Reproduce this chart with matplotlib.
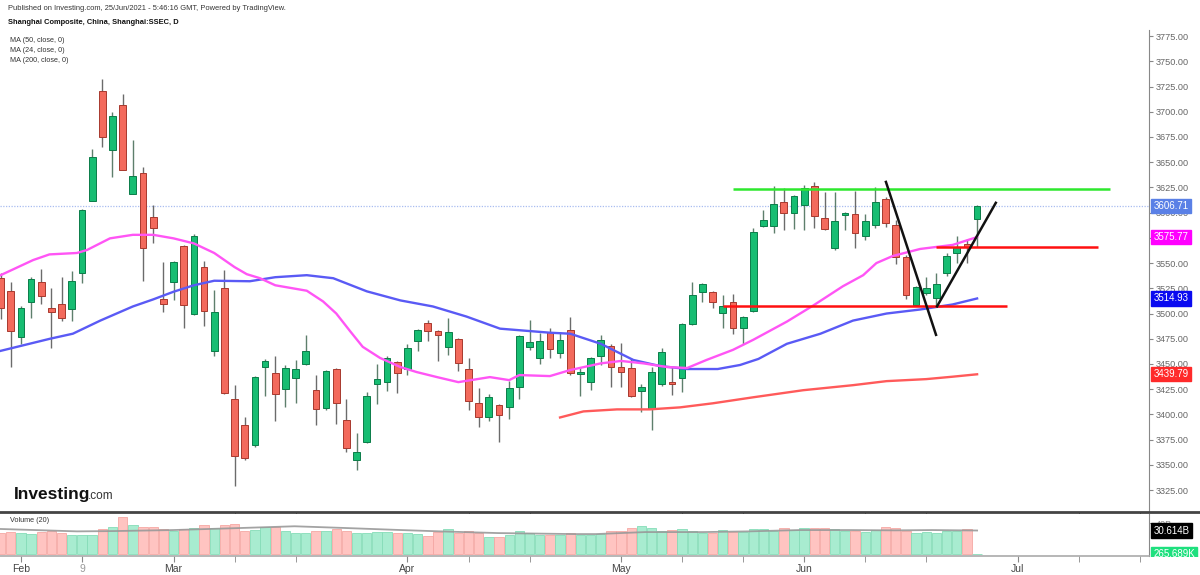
import matplotlib
matplotlib.use('Agg')
import numpy as np
from matplotlib import pyplot as plt
from matplotlib.lines import Line2D
from matplotlib.transforms import blended_transform_factory, Bbox

plt.rcParams['font.family'] = ['Liberation Sans', 'DejaVu Sans']

# daily bars, Jan 28 .. Jun 25 2021 (bar index -2 .. 94)
dates = ['Jan 28', 'Jan 29',
         'Feb 1', 'Feb 2', 'Feb 3', 'Feb 4', 'Feb 5', 'Feb 8', 'Feb 9', 'Feb 10',
         'Feb 18', 'Feb 19', 'Feb 22', 'Feb 23', 'Feb 24', 'Feb 25', 'Feb 26',
         'Mar 1', 'Mar 2', 'Mar 3', 'Mar 4', 'Mar 5', 'Mar 8', 'Mar 9', 'Mar 10',
         'Mar 11', 'Mar 12', 'Mar 15', 'Mar 16', 'Mar 17', 'Mar 18', 'Mar 19',
         'Mar 22', 'Mar 23', 'Mar 24', 'Mar 25', 'Mar 26', 'Mar 29', 'Mar 30', 'Mar 31',
         'Apr 1', 'Apr 2', 'Apr 6', 'Apr 7', 'Apr 8', 'Apr 9', 'Apr 12', 'Apr 13',
         'Apr 14', 'Apr 15', 'Apr 16', 'Apr 19', 'Apr 20', 'Apr 21', 'Apr 22', 'Apr 23',
         'Apr 26', 'Apr 27', 'Apr 28', 'Apr 29', 'Apr 30',
         'May 6', 'May 7', 'May 10', 'May 11', 'May 12', 'May 13', 'May 14', 'May 17',
         'May 18', 'May 19', 'May 20', 'May 21', 'May 24', 'May 25', 'May 26', 'May 27',
         'May 28', 'May 31',
         'Jun 1', 'Jun 2', 'Jun 3', 'Jun 4', 'Jun 7', 'Jun 8', 'Jun 9', 'Jun 10',
         'Jun 11', 'Jun 15', 'Jun 16', 'Jun 17', 'Jun 18', 'Jun 21', 'Jun 22', 'Jun 23',
         'Jun 24', 'Jun 25']
bar_index = list(range(-2, 95))

opens = [3535, 3522,
         3477, 3511, 3531, 3505, 3509, 3504, 3540, 3612,
         3721, 3662, 3707, 3618, 3639, 3596, 3514,
         3531, 3567, 3500, 3546, 3463, 3525, 3415, 3390,
         3370, 3447, 3441, 3425, 3436, 3450, 3424,
         3406, 3445, 3394, 3355, 3373, 3430, 3432, 3452,
         3445, 3473, 3491, 3483, 3467, 3475, 3445, 3411,
         3397, 3409, 3407, 3427, 3467, 3456, 3482, 3461,
         3484, 3440, 3432, 3458, 3468,
         3447, 3446, 3423, 3405, 3430, 3432, 3436, 3490,
         3521, 3521, 3501, 3511, 3486, 3503, 3587, 3587,
         3611, 3600,
         3608, 3626, 3595, 3565, 3598, 3599, 3577, 3588,
         3614, 3588, 3556, 3508, 3520, 3515, 3540, 3560,
         3569, 3594]
highs = [3540, 3531,
         3507, 3536, 3544, 3525, 3536, 3542, 3604, 3663,
         3732, 3700, 3718, 3672, 3645, 3608, 3551,
         3552, 3568, 3579, 3552, 3523, 3543, 3429, 3397,
         3438, 3455, 3458, 3449, 3454, 3479, 3439,
         3444, 3446, 3415, 3382, 3422, 3450, 3458, 3453,
         3470, 3485, 3494, 3484, 3496, 3476, 3456, 3426,
         3420, 3410, 3433, 3479, 3494, 3481, 3486, 3482,
         3497, 3447, 3457, 3479, 3470,
         3471, 3456, 3430, 3447, 3466, 3447, 3491, 3531,
         3530, 3522, 3518, 3519, 3498, 3585, 3603, 3626,
         3624, 3617,
         3627, 3630, 3620, 3620, 3601, 3621, 3599, 3625,
         3615, 3593, 3558, 3527, 3536, 3540, 3560, 3577,
         3574, 3608]
lows = [3495, 3447,
        3470, 3496, 3509, 3466, 3493, 3493, 3530, 3612,
        3665, 3635, 3642, 3618, 3532, 3570, 3502,
        3513, 3486, 3499, 3488, 3458, 3420, 3329, 3355,
        3368, 3418, 3393, 3407, 3411, 3449, 3390,
        3404, 3391, 3363, 3345, 3372, 3410, 3423, 3421,
        3439, 3463, 3473, 3453, 3459, 3443, 3404, 3388,
        3393, 3373, 3395, 3415, 3464, 3450, 3456, 3456,
        3439, 3418, 3424, 3449, 3427,
        3427, 3417, 3402, 3385, 3428, 3419, 3422, 3489,
        3511, 3505, 3486, 3480, 3470, 3502, 3586, 3580,
        3583, 3584,
        3583, 3585, 3583, 3563, 3583, 3565, 3573, 3585,
        3586, 3549, 3514, 3507, 3518, 3506, 3537, 3550,
        3550, 3566]
closes = [3505, 3483,
          3505, 3534, 3517, 3502, 3496, 3532, 3603, 3655,
          3675, 3696, 3642, 3636, 3565, 3585, 3509,
          3551, 3508, 3577, 3503, 3502, 3421, 3359, 3357,
          3437, 3453, 3420, 3446, 3445, 3463, 3405,
          3443, 3411, 3367, 3363, 3418, 3435, 3456, 3441,
          3466, 3484, 3483, 3479, 3482, 3451, 3413, 3397,
          3417, 3399, 3426, 3478, 3472, 3473, 3465, 3474,
          3441, 3442, 3456, 3474, 3447,
          3442, 3418, 3427, 3442, 3462, 3430, 3490, 3518,
          3529, 3511, 3507, 3486, 3497, 3581, 3593, 3609,
          3600, 3616,
          3624, 3597, 3584, 3592, 3600, 3580, 3592, 3611,
          3590, 3556, 3518, 3526, 3525, 3529, 3557, 3566,
          3566, 3606.71]
volumes_b = [28.0, 28.6,
             26.8, 25.5, 29.0, 29.5, 27.7, 24.2, 24.2, 24.2,
             33.0, 35.2, 48.0, 38.3, 35.6, 35.6, 32.1,
             30.4, 32.6, 34.3, 38.3, 34.3, 37.4, 39.6, 29.5,
             30.8, 35.2, 35.6, 30.4, 26.8, 27.7, 29.9,
             29.9, 32.1, 30.4, 26.8, 26.8, 28.2, 28.2, 27.7,
             26.8, 25.5, 22.9, 29.0, 32.1, 26.8, 29.5, 26.8,
             22.4, 22.4, 24.6, 29.5, 27.7, 24.2, 24.2, 24.2,
             26.8, 24.2, 24.6, 26.0, 29.9,
             29.9, 34.3, 36.5, 34.3, 29.5, 31.2, 33.0, 30.4,
             26.8, 26.8, 31.7, 28.6, 28.6, 32.6, 32.6, 30.4,
             34.3, 31.7,
             34.3, 34.3, 34.3, 32.6, 29.9, 30.4, 29.0, 31.2,
             35.6, 34.3, 29.9, 26.8, 29.0, 27.7, 29.9, 29.9,
             33.0, 0.000265689]

# moving averages (bar position, value)
ma50_x = [-2, 2.85, 5.1, 7.8, 11, 13, 15, 17, 19, 22.5, 25, 28.1, 30.7, 34, 37.3,
          40.5, 43.8, 47.1, 52, 54, 57, 60.2, 62.8, 65.5, 68.5, 70.7, 72.5, 75.3,
          78.6, 81.8, 85.1, 88.4, 91.6, 94]
ma50_y = [3463, 3475, 3480, 3493, 3507, 3514, 3521.6, 3528, 3532.5, 3532, 3536, 3538,
          3535, 3522, 3513, 3507, 3497, 3485, 3481, 3480, 3470, 3454, 3448, 3445,
          3445, 3449, 3455, 3470, 3480, 3493, 3500, 3504, 3509, 3514.93]
ma24_x = [-2, 1.2, 2.8, 5.5, 6.5, 8.75, 11, 13, 15, 17, 19, 21, 22.2, 23.5, 25, 28.1,
          29.7, 31, 32.4, 33.6, 35.3, 37.3, 38.9, 40.9, 43, 46.1, 48, 49, 52, 54, 57,
          59, 61.2, 63.5, 65.5, 67.4, 70, 72, 75.3, 77.9, 80.8, 82.8, 84.1, 85.7,
          88.4, 91.6, 94]
ma24_y = [3538, 3553, 3558.6, 3560, 3563, 3574.5, 3578, 3578, 3574.5, 3569.5, 3560,
          3546, 3539, 3535, 3528, 3522.6, 3512, 3500, 3482, 3467, 3456, 3447, 3442,
          3437, 3432, 3437, 3434, 3439, 3438, 3444, 3450.6, 3453, 3450.6, 3447, 3446,
          3454, 3464, 3474, 3492, 3508, 3527, 3538, 3550, 3557, 3564, 3568, 3575.77]
ma200_x = [53, 55.3, 58.6, 61.8, 64.8, 68, 72, 76.9, 81.8, 85.1, 89, 91.6, 94]
ma200_y = [3397, 3403, 3405, 3405, 3407, 3411, 3417, 3424, 3429, 3433, 3435, 3437.4,
           3439.79]
volma_x = [-2, 5.5, 9.2, 14.9, 20.5, 26.9, 31.8, 37.4, 41.2, 46.9, 54.4, 56.5, 61.4,
           67.1, 71.6, 76.5, 81.4, 85.9, 89.6, 94]
volma_y = [32.6, 29.5, 29.9, 31.2, 33.4, 36.1, 33.9, 31.2, 29.5, 27.3, 26.0, 26.0,
           28.6, 28.6, 29.5, 31.2, 31.2, 30.8, 31.2, 30.614]

# drawn lines: ((x0, y0), (x1, y1))
resistance = ((70, 3623.5), (107.1, 3623.5))
pivot_upper = ((90, 3565.5), (105.9, 3565.5))
pivot_lower = ((69, 3507), (96.9, 3507))
v_down = ((85, 3631.6), (90, 3477.7))
v_up = ((90, 3506), (95.9, 3610.8))

price_ticks = list(range(3325, 3776, 25))
month_ticks = [0, 6, 15, 38, 59, 77, 98]
month_labels = ['Feb', '9', 'Mar', 'Apr', 'May', 'Jun', 'Jul']
minor_ticks = [21, 27, 44, 50, 65, 71, 83, 89, 104, 110]

UP = '#17bd72'
UP_EDGE = '#0b7d49'
DOWN = '#f36a5c'
DOWN_EDGE = '#a8392e'


def tag(ax, y, text, bg, size=7):
    tr = blended_transform_factory(ax.transAxes, ax.transData)
    return ax.text(1.004, y, text, transform=tr, ha='left', va='center', fontsize=size,
                   color='white', clip_on=False, zorder=10,
                   bbox=dict(boxstyle='square,pad=0.22', fc=bg, ec=bg))


def main():
    W, H = 1200, 575
    fig = plt.figure(figsize=(W / 100, H / 100), dpi=100)
    ax = fig.add_axes([0, 1 - 512 / H, 1149 / W, (512 - 30) / H])
    vax = fig.add_axes([0, 1 - 556 / H, 1149 / W, (556 - 514) / H], sharex=ax)

    x = np.array(bar_index)
    o = np.array(opens)
    c = np.array(closes)
    up = c >= o
    wick_col = ['#5e7f6c' if u else '#6b6b6b' for u in up]
    ax.vlines(x, lows, highs, colors=wick_col, lw=1, zorder=2)
    body_lo = np.minimum(o, c)
    body_h = np.maximum(np.abs(c - o), 1.2)
    ax.bar(x, body_h, bottom=body_lo, width=0.66,
           color=[UP if u else DOWN for u in up],
           edgecolor=[UP_EDGE if u else DOWN_EDGE for u in up], lw=0.7, zorder=3)

    ax.plot(ma50_x, ma50_y, color='#5a5af5', lw=1.7, zorder=4)
    ax.plot(ma24_x, ma24_y, color='#ff55f5', lw=1.7, zorder=4)
    ax.plot(ma200_x, ma200_y, color='#ff5a5a', lw=1.7, zorder=4)

    ax.axhline(closes[-1], color='#a9bdf0', lw=0.9, ls=(0, (1, 1.2)), zorder=1)

    for (x0, y0), (x1, y1), col in [(resistance[0], resistance[1], '#2ee82e'),
                                    (pivot_upper[0], pivot_upper[1], '#ff1010'),
                                    (pivot_lower[0], pivot_lower[1], '#ff1010'),
                                    (v_down[0], v_down[1], '#111111'),
                                    (v_up[0], v_up[1], '#111111')]:
        ax.plot([x0, x1], [y0, y1], color=col, lw=1.8, zorder=5, solid_capstyle='butt')

    ax.set_xlim(-2.06, 110.9)
    ax.set_ylim(3303.3, 3781)
    ax.yaxis.tick_right()
    ax.set_yticks(price_ticks)
    ax.set_yticklabels(['%.2f' % p for p in price_ticks])
    ax.tick_params(axis='y', length=3, color='#888888', labelsize=6.6,
                   labelcolor='#666666', pad=2)
    ax.tick_params(axis='x', bottom=False, labelbottom=False)
    for s in ['top', 'left', 'bottom']:
        ax.spines[s].set_visible(False)
    ax.spines['right'].set_color('#888888')

    tag(ax, closes[-1], '%.2f' % closes[-1], '#5a80e6')
    tag(ax, ma24_y[-1], '%.2f' % ma24_y[-1], '#ff00ff')
    tag(ax, ma50_y[-1], '%.2f' % ma50_y[-1], '#0a0af0')
    tag(ax, ma200_y[-1], '%.2f' % ma200_y[-1], '#ff2a2a')

    # volume panel
    vcol = ['#a8ecd0' if u else '#ffc4c1' for u in up]
    vedge = ['#86dcb8' if u else '#f5a8a4' for u in up]
    vax.bar(x, volumes_b, width=0.92, color=vcol, edgecolor=vedge, lw=0.6, zorder=2)
    vax.plot(volma_x, volma_y, color='#999999', lw=1.3, alpha=0.9, zorder=3)
    vax.set_ylim(-2.4, 52)
    vax.yaxis.tick_right()
    vax.set_yticks([40])
    vax.set_yticklabels(['40B'])
    vax.tick_params(axis='y', length=3, color='#888888', labelsize=6.6,
                    labelcolor='#888888', pad=2)
    vax.set_xticks(month_ticks)
    vax.set_xticklabels(month_labels)
    vax.set_xticks(minor_ticks, minor=True)
    vax.tick_params(axis='x', which='both', length=4, color='#888888', direction='out',
                    labelsize=7.5, labelcolor='#444444', pad=2)
    vax.get_xticklabels()[1].set_color('#999999')
    for s in ['top', 'left']:
        vax.spines[s].set_visible(False)
    vax.spines['right'].set_color('#888888')
    vax.spines['bottom'].set_color('#aaaaaa')
    vax.spines['bottom'].set_linewidth(1.2)

    tag(vax, volma_y[-1], '30.614B', '#000000')
    # current volume tag, cut off at the bottom of the pane like the original
    cur = tag(vax, 0.3, '265.689K', '#1ee07e')
    cur.set_clip_on(True)
    cur.set_clip_box(Bbox([[1140, H - 557], [W, H]]))

    # separator between panes
    fig.add_artist(Line2D([0, 1], [1 - 512 / H] * 2, color='#444444', lw=2))

    # header and legend texts
    fig.text(8 / W, 1 - 9 / H, 'Published on Investing.com, 25/Jun/2021 - 5:46:16 GMT, '
             'Powered by TradingView.', fontsize=5.4, color='#333333', va='center')
    fig.text(8 / W, 1 - 22 / H, 'Shanghai Composite, China, Shanghai:SSEC, D',
             fontsize=5.4, weight='bold', color='#111111', va='center')
    for i, t in enumerate(['MA (50, close, 0)', 'MA (24, close, 0)', 'MA (200, close, 0)']):
        fig.text(10 / W, 1 - (40 + 10 * i) / H, t, fontsize=5.2, color='#333333',
                 va='center')
    fig.text(10 / W, 1 - 521 / H, 'Volume (20)', fontsize=5.2, color='#333333',
             va='center')
    fig.text(14 / W, 1 - 499 / H, 'Investing', fontsize=12.5, weight='bold',
             color='#111111', va='baseline')
    fig.text(88 / W, 1 - 499 / H, '.com', fontsize=8.5, color='#333333', va='baseline')

    fig.savefig('out.png', dpi=100)


if __name__ == '__main__':
    main()
